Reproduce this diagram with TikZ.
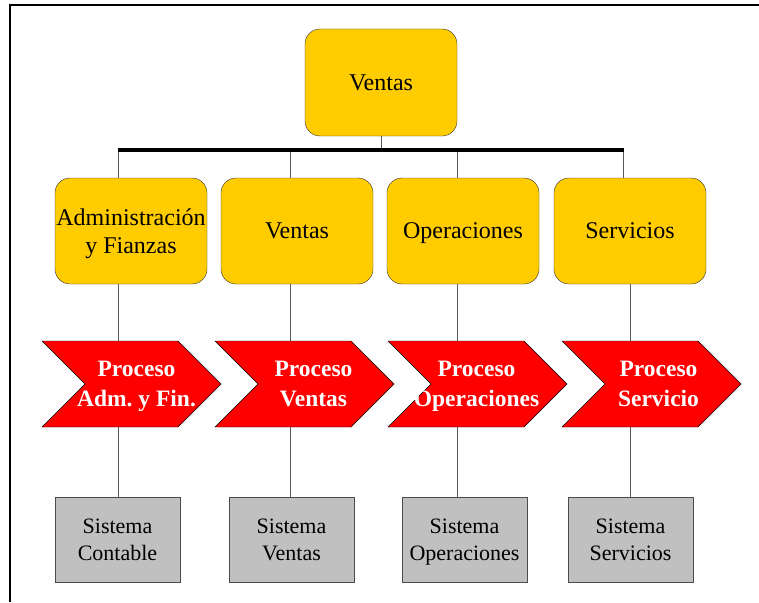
\documentclass[tikz,border=0pt]{standalone}
\usepackage{fontspec}
\setmainfont{Liberation Serif}
\usepackage{tikz}
\usetikzlibrary{
  positioning,
  calc,
  shapes.symbols,
  backgrounds}
\definecolor{amarillo}{HTML}{FFCC00}
\definecolor{rojo}{HTML}{FF0000}
\definecolor{gris}{HTML}{C0C0C0}
\frenchspacing
\tikzset{x=1pt, y=-1pt,
         every node/.append style={text depth=0pt},
         area/.style={draw=black!80, fill=amarillo, rounded corners=15pt,
                      minimum width=152pt, minimum height=106pt, inner sep=0pt,
                      align=center, font=\fontsize{24}{28}\selectfont},
         proceso/.style={draw=black, fill=rojo, shape=signal, signal to=east,
                         signal from=west, signal pointer angle=90,
                         minimum width=179pt, minimum height=86pt, inner sep=0pt},
         procesotxt/.style={text=white, align=center,
                            font=\fontsize{23.5}{30}\selectfont\bfseries},
         sistema/.style={draw=black!70, fill=gris, minimum width=125pt,
                         minimum height=85pt, inner sep=0pt, align=center,
                         font=\fontsize{22}{27}\selectfont},
         link/.style={draw=black!65, line width=0.9pt},
         bus/.style={draw=black, line width=3.6pt}
        }
\begin{document}
\begin{tikzpicture}
\useasboundingbox (0,0) rectangle (759,602);
%marco
\draw[line width=2.2pt] (9,5) -- (759,5);
\draw[line width=2.2pt] (10,4) -- (10,602);

%nivel superior
\node[area, minimum height=107pt] (ventas) at (381,82.5) {Ventas};

%areas
\node[area] (adm) at (131,231) {Administración\\y Fianzas};
\node[area] (ven) at (297,231) {Ventas};
\node[area] (ope) at (463,231) {Operaciones};
\node[area] (ser) at (630,231) {Servicios};

%procesos
\node[proceso] (padm) at (131.5,384) {};
\node[proceso] (pven) at (304.5,384) {};
\node[proceso] (pope) at (477.5,384) {};
\node[proceso] (pser) at (651.5,384) {};
\node[procesotxt] at ([xshift=5pt]padm) {Proceso\\Adm. y Fin.};
\node[procesotxt] at ([xshift=9pt]pven) {Proceso\\Ventas};
\node[procesotxt] at ([xshift=-1pt]pope) {Proceso\\Operaciones};
\node[procesotxt] at ([xshift=7pt]pser) {Proceso\\Servicio};

%sistemas
\node[sistema] (sadm) at (117.5,539.5) {Sistema\\Contable};
\node[sistema] (sven) at (291.5,539.5) {Sistema\\Ventas};
\node[sistema] (sope) at (464.5,539.5) {Sistema\\Operaciones};
\node[sistema] (sser) at (630.5,539.5) {Sistema\\Servicios};

%conexiones
\coordinate (b1) at (118,150);
\coordinate (b2) at (290,150);
\coordinate (b3) at (457,150);
\coordinate (b4) at (623,150);

\begin{scope}[on background layer]
\draw[link] (ventas.south) -- (ventas.south |- b1);
\draw[link] (b1) -- (adm.north -| b1);
\draw[link] (b2) -- (ven.north -| b2);
\draw[link] (b3) -- (ope.north -| b3);
\draw[link] (b4) -- (ser.north -| b4);
\draw[link] (adm.south -| b1) -- (sadm.north -| b1);
\draw[link] (ven.south -| b2) -- (sven.north -| b2);
\draw[link] (ope.south -| b3) -- (sope.north -| b3);
\draw[link] (ser.south) -- (ser.south |- sser.north);
\end{scope}
\draw[bus] ([xshift=-0.5pt]b1) -- ([xshift=0.5pt]b4);
\end{tikzpicture}
\end{document}
